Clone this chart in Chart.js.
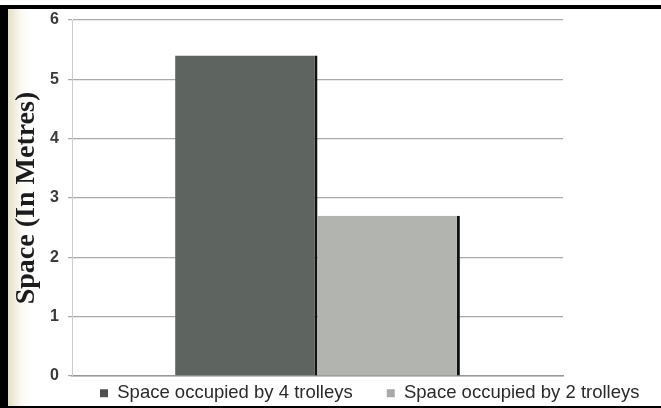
<!DOCTYPE html>
<html>
<head>
<meta charset="utf-8">
<script src="https://cdn.jsdelivr.net/npm/chart.js@4.4.1/dist/chart.umd.min.js"></script>
<style>
  html, body { margin: 0; padding: 0; background: #fff; }
  body { width: 661px; height: 408px; position: relative; overflow: hidden; }
  .frame { position: absolute; left: 0; top: 5px; width: 661px; height: 403px; background: #000; }
  .sheet {
    position: absolute; left: 8px; top: 9px; width: 653px; height: 397px;
    background: linear-gradient(to right, #e4dfc6 0px, #efecdd 6px, #fbfaf5 14px, #fff 24px);
  }
  canvas { display: block; }
</style>
</head>
<body>
<div class="frame"></div>
<div class="sheet">
  <canvas id="chart" width="653" height="397"></canvas>
</div>
<script>
// values
const categories = ['Space'];
const seriesNames = ['Space occupied by 4 trolleys', 'Space occupied by 2 trolleys'];
const fourTrolleys = [5.4];
const twoTrolleys = [2.7];
const yTicks = [0, 1, 2, 3, 4, 5, 6];

// move the bottom legend to where the scan has it
// (only top moves up, so the legend's clip box still covers the text)
const legendShift = {
  id: 'legendShift',
  afterLayout(chart) {
    const lg = chart.legend;
    if (!lg) return;
    lg.left += 58; lg.right += 58;
    lg.top -= 26;
  }
};

new Chart(document.getElementById('chart'), {
  type: 'bar',
  data: {
    labels: categories,
    datasets: [
      {
        label: seriesNames[0],
        data: fourTrolleys,
        backgroundColor: '#5e6460',
        borderColor: '#111',
        borderWidth: { top: 0, right: 3, bottom: 0, left: 0 },
        borderSkipped: false
      },
      {
        label: seriesNames[1],
        data: twoTrolleys,
        backgroundColor: '#b2b4af',
        borderColor: '#111',
        borderWidth: { top: 0, right: 3, bottom: 0, left: 0 },
        borderSkipped: false
      }
    ]
  },
  options: {
    responsive: false,
    animation: false,
    layout: { padding: { top: 11, left: 0, right: 0, bottom: 0 } },
    datasets: { bar: { categoryPercentage: 0.58, barPercentage: 1 } },
    scales: {
      x: {
        grid: { display: false, drawTicks: false },
        ticks: { display: false },
        border: { display: true, color: '#999', width: 1.5 }
      },
      y: {
        min: 0,
        max: 6,
        afterBuildTicks: (s) => { s.ticks = yTicks.map(v => ({ value: v })); },
        afterFit: (s) => { s.width = 64; s.paddingTop = 0; s.paddingBottom = 0; },
        ticks: {
          padding: 9,
          color: '#3a3a3a',
          font: { family: 'Liberation Sans, Arial, sans-serif', size: 16, weight: 'bold' }
        },
        grid: { color: '#aaa', lineWidth: 1.2, tickLength: 4 },
        border: { color: '#ccc', width: 1 },
        title: {
          display: true,
          text: 'Space (In Metres)',
          color: '#1c1c1c',
          padding: { top: 2, bottom: 0 },
          font: { family: 'Liberation Serif, Times New Roman, serif', size: 28, weight: 'bold' }
        }
      },
      y2: {
        position: 'right',
        grid: { display: false },
        border: { display: false },
        ticks: { display: false },
        afterFit: (s) => { s.width = 98; s.paddingTop = 0; s.paddingBottom = 0; }
      }
    },
    plugins: {
      tooltip: { enabled: false },
      legend: {
        position: 'bottom',
        align: 'start',
        maxHeight: 30,
        labels: {
          boxWidth: 8,
          boxHeight: 8,
          padding: 34,
          color: '#2a2a2a',
          font: { family: 'Liberation Sans, Arial, sans-serif', size: 18.5 },
          generateLabels: (chart) => {
            const items = Chart.defaults.plugins.legend.labels.generateLabels(chart);
            items.forEach(it => { it.lineWidth = 0; });
            items[0].fillStyle = '#505050';
            items[1].fillStyle = '#a9a9a9';
            return items;
          }
        }
      }
    }
  },
  plugins: [legendShift]
});
</script>
</body>
</html>
